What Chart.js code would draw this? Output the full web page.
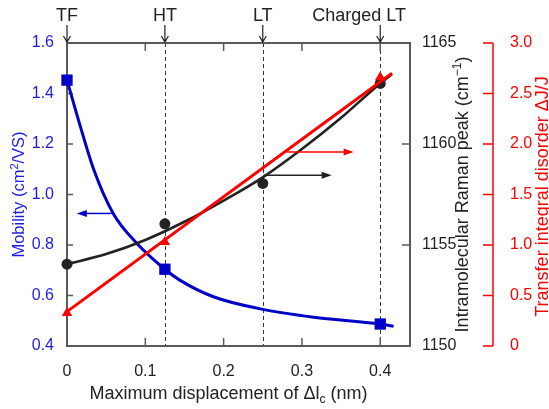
<!DOCTYPE html>
<html>
<head>
<meta charset="utf-8">
<script src="https://cdn.jsdelivr.net/npm/chart.js@4.4.1/dist/chart.umd.min.js"></script>
<style>
  html, body { margin: 0; padding: 0; background: #fff; }
  #wrap { width: 549px; height: 409px; position: relative; }
</style>
</head>
<body>
<div id="wrap"><canvas id="chart"></canvas></div>
<script>
// Structures marked along the top of the plot (x in nm)
const phaseLabels = ['TF', 'HT', 'LT', 'Charged LT'];
const phaseX = [0, 0.125, 0.25, 0.4];

const mobilityX = [0, 0.125, 0.4];
const mobility = [1.453, 0.704, 0.487];
const mobilityFitX = [0, 0.017, 0.034, 0.059, 0.089, 0.125, 0.144, 0.187, 0.247, 0.315, 0.4, 0.417];
const mobilityFit = [1.453, 1.27, 1.10, 0.925, 0.807, 0.704, 0.661, 0.595, 0.547, 0.514, 0.487, 0.478];

// Intramolecular Raman peak (cm-1)
const ramanX = [0, 0.125, 0.25, 0.4];
const raman = [1154.05, 1156.05, 1158.05, 1163.0];
const ramanFitX = [0, 0.05, 0.1, 0.15, 0.2, 0.25, 0.3, 0.35, 0.4, 0.415];
const ramanFit = [1154.05, 1154.55, 1155.25, 1156.15, 1157.2, 1158.35, 1159.75, 1161.3, 1163.0, 1163.45];

// Transfer integral disorder dJ/J
const disorderX = [0, 0.125, 0.4];
const disorder = [0.327, 1.03, 2.66];
const disorderFitX = [0, 0.415];
const disorderFit = [0.34, 2.70];

// Arrows pointing each curve to its axis
const arrowAxis = ['y', 'y1', 'y2'];
const arrowValue = [0.925, 1158.45, 1.92];
const arrowFromX = [0.059, 0.251, 0.281];
const arrowToX = [0.0125, 0.338, 0.366];

// Tick labels
const xTicks = [0, 0.1, 0.2, 0.3, 0.4];
const mobilityTicks = [0.4, 0.6, 0.8, 1.0, 1.2, 1.4, 1.6];
const ramanTicks = [1150, 1155, 1160, 1165];
const disorderTicks = [0, 0.5, 1.0, 1.5, 2.0, 2.5, 3.0];

const FONT = '"Liberation Sans", Arial, Helvetica, sans-serif';
const BLUE = '#0000c8';
const BLUE_TEXT = '#1c1ce0';
const RED = '#ff0000';
const DARK = '#222222';
const FRAME = '#5a5a5a';
const arrowColor = [BLUE, DARK, RED];

Chart.defaults.font.family = FONT;
Chart.defaults.color = DARK;

function pts(xs, ys) {
    return xs.map((x, i) => ({ x: x, y: ys[i] }));
}

function fixedTicks(values) {
    return function(scale) {
        scale.ticks = values.map(v => ({ value: v }));
    };
}

// draw a line of text made of runs (for sub/superscripts), centred on x
function drawRuns(ctx, runs, x, y, angle) {
    ctx.save();
    ctx.translate(x, y);
    ctx.rotate(angle);
    ctx.textAlign = 'left';
    ctx.textBaseline = 'alphabetic';
    let total = 0;
    runs.forEach(r => {
        ctx.font = r.size + 'px ' + FONT;
        r.w = ctx.measureText(r.text).width;
        total += r.w;
    });
    let cx = -total / 2;
    runs.forEach(r => {
        ctx.font = r.size + 'px ' + FONT;
        ctx.fillStyle = r.color;
        ctx.fillText(r.text, cx, r.dy || 0);
        cx += r.w;
    });
    ctx.restore();
}

function filledArrow(ctx, x1, y, x2, color) {
    const dir = x2 > x1 ? 1 : -1;
    ctx.strokeStyle = color;
    ctx.fillStyle = color;
    ctx.lineWidth = 1.5;
    ctx.beginPath();
    ctx.moveTo(x1, y);
    ctx.lineTo(x2 - dir * 6, y);
    ctx.stroke();
    ctx.beginPath();
    ctx.moveTo(x2, y);
    ctx.lineTo(x2 - dir * 10, y - 3.5);
    ctx.lineTo(x2 - dir * 10, y + 3.5);
    ctx.closePath();
    ctx.fill();
}

const figureDecor = {
    id: 'figureDecor',
    beforeDatasetsDraw(chart) {
        const ctx = chart.ctx;
        const a = chart.chartArea;
        const sx = chart.scales.x;
        ctx.save();

        // dashed guides at HT, LT and charged LT
        ctx.strokeStyle = '#333';
        ctx.lineWidth = 1;
        ctx.setLineDash([4, 3]);
        phaseX.forEach(v => {
            if (v === 0) return;
            const px = Math.round(sx.getPixelForValue(v)) + 0.5;
            ctx.beginPath();
            ctx.moveTo(px, a.top);
            ctx.lineTo(px, a.bottom);
            ctx.stroke();
        });
        ctx.setLineDash([]);

        // frame
        ctx.strokeStyle = FRAME;
        ctx.lineWidth = 2;
        ctx.strokeRect(a.left, a.top, a.right - a.left, a.bottom - a.top);

        // inward ticks
        ctx.lineWidth = 1.5;
        xTicks.forEach(v => {
            const px = sx.getPixelForValue(v);
            ctx.beginPath();
            ctx.moveTo(px, a.bottom);
            ctx.lineTo(px, a.bottom - 8);
            ctx.moveTo(px, a.top);
            ctx.lineTo(px, a.top + 8);
            ctx.stroke();
        });
        mobilityTicks.forEach(v => {
            const py = chart.scales.y.getPixelForValue(v);
            ctx.beginPath();
            ctx.moveTo(a.left, py);
            ctx.lineTo(a.left + 6, py);
            ctx.stroke();
        });
        ramanTicks.forEach(v => {
            const py = chart.scales.y1.getPixelForValue(v);
            ctx.beginPath();
            ctx.moveTo(a.right, py);
            ctx.lineTo(a.right - 8, py);
            ctx.stroke();
        });

        // separate red axis
        const s2 = chart.scales.y2;
        const rx = s2.left;
        ctx.strokeStyle = RED;
        ctx.lineWidth = 1.5;
        ctx.beginPath();
        ctx.moveTo(rx, a.top);
        ctx.lineTo(rx, a.bottom);
        ctx.stroke();
        disorderTicks.forEach(v => {
            const py = s2.getPixelForValue(v);
            ctx.beginPath();
            ctx.moveTo(rx - 10, py);
            ctx.lineTo(rx, py);
            ctx.stroke();
        });
        ctx.restore();
    },
    afterDraw(chart) {
        const ctx = chart.ctx;
        const a = chart.chartArea;
        const sx = chart.scales.x;
        ctx.save();

        // structure labels with arrows on top
        ctx.font = '18px ' + FONT;
        ctx.fillStyle = DARK;
        ctx.strokeStyle = DARK;
        ctx.textBaseline = 'alphabetic';
        phaseLabels.forEach((label, i) => {
            const px = sx.getPixelForValue(phaseX[i]);
            const w = ctx.measureText(label).width;
            if (px + w / 2 > a.right) {
                ctx.textAlign = 'right';
                ctx.fillText(label, a.right - 4, a.top - 22);
            } else {
                ctx.textAlign = 'center';
                ctx.fillText(label, px, a.top - 22);
            }
            ctx.lineWidth = 1.2;
            ctx.beginPath();
            ctx.moveTo(px, a.top - 18);
            ctx.lineTo(px, a.top - 1);
            ctx.moveTo(px - 3.5, a.top - 7);
            ctx.lineTo(px, a.top - 1);
            ctx.lineTo(px + 3.5, a.top - 7);
            ctx.stroke();
        });

        // arrows pointing each curve to its axis
        arrowAxis.forEach((id, i) => {
            const py = chart.scales[id].getPixelForValue(arrowValue[i]);
            filledArrow(ctx, sx.getPixelForValue(arrowFromX[i]), py, sx.getPixelForValue(arrowToX[i]), arrowColor[i]);
        });

        // axis titles
        const cy = (a.top + a.bottom) / 2;
        drawRuns(ctx, [
            { text: 'Maximum displacement of \u0394l', size: 18, color: DARK },
            { text: 'c', size: 12, color: DARK, dy: 4 },
            { text: ' (nm)', size: 18, color: DARK }
        ], (a.left + a.right) / 2 - 10, a.bottom + 53, 0);
        drawRuns(ctx, [
            { text: 'Mobility (cm', size: 16.5, color: BLUE_TEXT },
            { text: '2', size: 11, color: BLUE_TEXT, dy: -6 },
            { text: '/VS)', size: 16.5, color: BLUE_TEXT }
        ], 23.5, cy, -Math.PI / 2);
        drawRuns(ctx, [
            { text: 'Intramolecular Raman peak (cm', size: 18, color: DARK },
            { text: '\u22121', size: 12, color: DARK, dy: -7 },
            { text: ')', size: 18, color: DARK }
        ], a.right + 58, cy, -Math.PI / 2);
        drawRuns(ctx, [
            { text: 'Transfer integral disorder \u0394J/J', size: 18, color: RED }
        ], chart.scales.y2.left + 55, cy + 2, -Math.PI / 2);

        ctx.restore();
    }
};

new Chart(document.getElementById('chart'), {
    type: 'line',
    data: {
        datasets: [
            {
                label: 'Transfer integral disorder',
                data: pts(disorderX, disorder),
                yAxisID: 'y2',
                showLine: false,
                pointStyle: 'triangle',
                pointRadius: 6,
                pointBackgroundColor: RED,
                pointBorderColor: RED,
                pointBorderWidth: 0,
                order: 1,
                clip: false
            },
            {
                label: 'Transfer integral disorder fit',
                data: pts(disorderFitX, disorderFit),
                yAxisID: 'y2',
                borderColor: RED,
                borderWidth: 3,
                pointRadius: 0,
                order: 2,
                clip: false
            },
            {
                label: 'Raman peak',
                data: pts(ramanX, raman),
                yAxisID: 'y1',
                showLine: false,
                pointStyle: 'circle',
                pointRadius: 5.5,
                pointBackgroundColor: DARK,
                pointBorderColor: DARK,
                pointBorderWidth: 0,
                order: 3,
                clip: false
            },
            {
                label: 'Raman peak fit',
                data: pts(ramanFitX, ramanFit),
                yAxisID: 'y1',
                borderColor: DARK,
                borderWidth: 2.6,
                pointRadius: 0,
                cubicInterpolationMode: 'monotone',
                order: 4,
                clip: false
            },
            {
                label: 'Mobility',
                data: pts(mobilityX, mobility),
                yAxisID: 'y',
                showLine: false,
                pointStyle: 'rect',
                pointRadius: 8,
                pointBackgroundColor: BLUE,
                pointBorderColor: BLUE,
                pointBorderWidth: 0,
                order: 5,
                clip: false
            },
            {
                label: 'Mobility fit',
                data: pts(mobilityFitX, mobilityFit),
                yAxisID: 'y',
                borderColor: BLUE,
                borderWidth: 3,
                pointRadius: 0,
                cubicInterpolationMode: 'monotone',
                order: 6,
                clip: false
            }
        ]
    },
    options: {
        responsive: true,
        maintainAspectRatio: false,
        animation: false,
        devicePixelRatio: 1,
        layout: {
            padding: { top: 43, left: 0, right: 0, bottom: 0 },
            autoPadding: false
        },
        plugins: {
            legend: { display: false },
            tooltip: { enabled: false }
        },
        scales: {
            x: {
                type: 'linear',
                position: 'bottom',
                min: 0,
                max: 0.438,
                afterBuildTicks: fixedTicks(xTicks),
                afterFit: function(scale) { scale.height = 63; },
                grid: { display: false },
                border: { display: false },
                ticks: {
                    padding: 8,
                    autoSkip: false,
                    maxRotation: 0,
                    color: DARK,
                    font: { size: 16 },
                    callback: function(value) {
                        return value === 0 ? '0' : value.toFixed(1);
                    }
                }
            },
            y: {
                type: 'linear',
                position: 'left',
                min: 0.4,
                max: 1.6,
                afterBuildTicks: fixedTicks(mobilityTicks),
                afterFit: function(scale) { scale.width = 67; },
                grid: { display: false },
                border: { display: false },
                ticks: {
                    padding: 5,
                    autoSkip: false,
                    color: BLUE_TEXT,
                    font: { size: 16 },
                    callback: function(value) {
                        return value.toFixed(1);
                    }
                }
            },
            y1: {
                type: 'linear',
                position: 'right',
                min: 1150,
                max: 1165,
                afterBuildTicks: fixedTicks(ramanTicks),
                afterFit: function(scale) { scale.width = 83; },
                grid: { display: false },
                border: { display: false },
                ticks: {
                    padding: 4,
                    autoSkip: false,
                    color: DARK,
                    font: { size: 16 },
                    callback: function(value) {
                        return String(value);
                    }
                }
            },
            y2: {
                type: 'linear',
                position: 'right',
                min: 0,
                max: 3.0,
                afterBuildTicks: fixedTicks(disorderTicks),
                afterFit: function(scale) { scale.width = 56; },
                grid: { display: false },
                border: { display: false },
                ticks: {
                    padding: 9,
                    autoSkip: false,
                    color: RED,
                    font: { size: 16 },
                    callback: function(value) {
                        return value === 0 ? '0' : value.toFixed(1);
                    }
                }
            }
        }
    },
    plugins: [figureDecor]
});
</script>
</body>
</html>
